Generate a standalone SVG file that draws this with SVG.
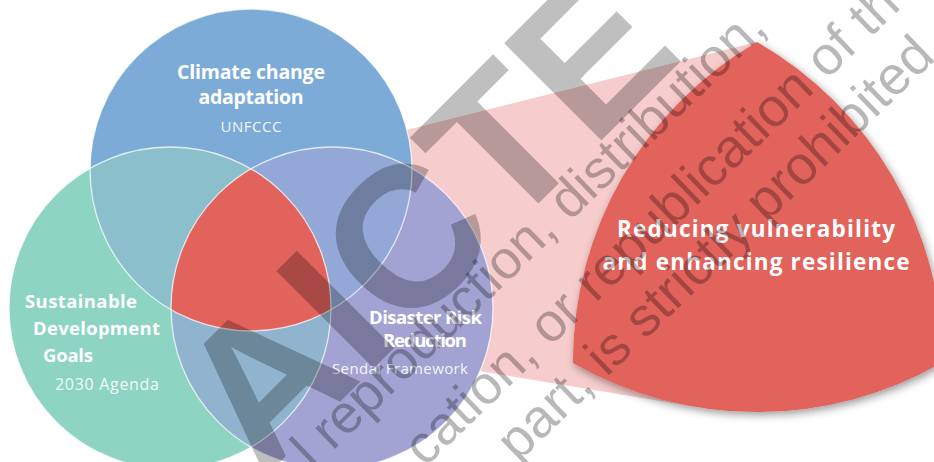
<svg xmlns="http://www.w3.org/2000/svg" width="934" height="462" viewBox="0 0 934 462">
<style>
.t{font-family:"Open Sans","Noto Sans","Liberation Sans",sans-serif;fill:#fff}
.b{font-weight:700}
.s{font-weight:400;fill-opacity:0.92}
.ring{fill:none;stroke:#fff;stroke-opacity:0.75;stroke-width:1.3}
.wm{font-family:"Liberation Sans",Arial,sans-serif;fill:#000;pointer-events:none}
</style>
<defs>
<clipPath id="clipBlue"><circle cx="251" cy="170" r="161"/></clipPath>
<clipPath id="clipGreen"><circle cx="170" cy="308" r="161"/></clipPath>
<clipPath id="clipPurple"><circle cx="332" cy="308" r="161"/></clipPath>
<filter id="shadow" x="-10%" y="-10%" width="125%" height="125%">
<feDropShadow dx="2" dy="3" stdDeviation="4" flood-color="#000" flood-opacity="0.4"/>
</filter>
</defs>
<rect width="934" height="462" fill="#fff"/>
<g id="connectors">
<path d="M251,169 L757,42 L943,362 L696.5,407 L224.7,328.8 Z" fill="#F6CDCC"/>
</g>
<g id="node-cca">
<circle cx="251" cy="170" r="161" fill="#7CABD8"/>
</g>
<g id="node-sdg">
<circle cx="170" cy="308" r="161" fill="#8DD4C2"/>
</g>
<g id="node-drr">
<circle cx="332" cy="308" r="161" fill="#A2A2D3"/>
</g>
<g id="overlaps">
<circle cx="170" cy="308" r="161" fill="#8BBFCC" clip-path="url(#clipBlue)"/>
<circle cx="332" cy="308" r="161" fill="#93A8D6" clip-path="url(#clipBlue)"/>
<circle cx="332" cy="308" r="161" fill="#90B3CE" clip-path="url(#clipGreen)"/>
</g>
<g id="node-core">
<g clip-path="url(#clipGreen)"><circle cx="251" cy="170" r="161" fill="#E2625C" clip-path="url(#clipPurple)"/></g>
</g>
<g id="rings">
<circle class="ring" cx="251" cy="170" r="161"/>
<circle class="ring" cx="170" cy="308" r="161"/>
<circle class="ring" cx="332" cy="308" r="161"/>
</g>
<g id="labels">
<text class="t b" x="251" y="79" font-size="19.5" text-anchor="middle" textLength="148">Climate change</text>
<text class="t b" x="251" y="104" font-size="19.5" text-anchor="middle" textLength="105">adaptation</text>
<text class="t s" x="251" y="132" font-size="15" text-anchor="middle" textLength="61">UNFCCC</text>
<text class="t b" x="25" y="308" font-size="18.5" textLength="112">Sustainable</text>
<text class="t b" x="33" y="335" font-size="18.5" textLength="127">Development</text>
<text class="t b" x="43" y="361.5" font-size="18.5" textLength="50">Goals</text>
<text class="t s" x="55" y="390" font-size="16" textLength="104">2030 Agenda</text>
<text class="t b" x="369" y="324" font-size="18.5" textLength="113">Disaster Risk</text>
<text class="t b" x="383" y="347" font-size="18.5" textLength="84">Reduction</text>
<text class="t s" x="332" y="374" font-size="15" textLength="136">Sendai Framework</text>
</g>
<g id="node-outcome">
<path d="M757,42 A370,370 0 0 1 943,362 A370,370 0 0 1 573,363 A370,370 0 0 1 757,42 Z" fill="#E2625C" filter="url(#shadow)"/>
<text class="t b" x="756" y="237" font-size="22.5" text-anchor="middle" textLength="278">Reducing vulnerability</text>
<text class="t b" x="756" y="270" font-size="22.5" text-anchor="middle" textLength="307">and enhancing resilience</text>
</g>
<g id="watermark">
<text class="wm" font-weight="700" font-size="200" fill-opacity="0.25" transform="translate(262,480) rotate(-45)">AICTE</text>
<text class="wm" font-size="54" fill-opacity="0.28" transform="translate(313,470) rotate(-44)">l reproduction, distribution,</text>
<text class="wm" font-size="54" fill-opacity="0.28" transform="translate(425,468) rotate(-44)">cation, or republication of th</text>
<text class="wm" font-size="54" fill-opacity="0.28" transform="translate(518,463) rotate(-44)">part, is strictly prohibited</text>
</g>
</svg>
